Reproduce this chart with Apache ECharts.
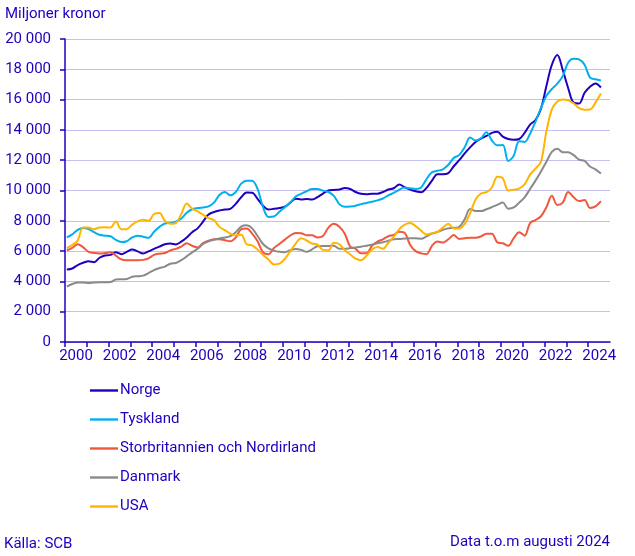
<!DOCTYPE html>
<html>
<head>
<meta charset="utf-8">
<script src="https://cdn.jsdelivr.net/npm/echarts@6/dist/echarts.min.js"></script>
<style>
html,body{margin:0;padding:0;background:#fff;}
#c{width:635px;height:556px;}
</style>
</head>
<body>
<div id="c"></div>
<script>
// Quarterly readings (Feb, May, Aug, Nov) from 2000 to Aug 2024, miljoner kronor
const seriesNames = ['Norge', 'Tyskland', 'Storbritannien och Nordirland', 'Danmark', 'USA'];
const startYear = 2000;
const yTicks = [0, 2000, 4000, 6000, 8000, 10000, 12000, 14000, 16000, 18000, 20000];

const norge = [
  4780, 4850, 5080, 5230,   5330, 5270, 5560, 5710,   5750, 5920, 5800, 5950,
  6100, 5980, 5840, 5980,   6150, 6300, 6450, 6500,   6440, 6620, 6900, 7250,
  7500, 7950, 8420, 8580,   8680, 8740, 8790, 9120,   9550, 9860, 9850, 9450,
  9000, 8740, 8790, 8850,   8930, 9200, 9460, 9410,   9440, 9400, 9560, 9800,
  10000, 10040, 10060, 10170, 10100, 9900, 9780, 9760, 9790, 9790, 9900, 10070,
  10150, 10400, 10220, 10060, 9950, 9880, 10170, 10650, 11080, 11080, 11150, 11600,
  12000, 12450, 12850, 13200, 13420, 13600, 13800, 13870, 13560, 13400, 13350, 13400,
  13800, 14350, 14650, 15400, 16900, 18300, 18950, 17950, 16750, 15800, 15750, 16450,
  16850, 17070, 16800
];
const tyskland = [
  6900, 7100, 7400, 7530,   7450, 7250, 7080, 7020,   6980, 6740, 6600, 6650,
  6900, 7010, 6950, 6880,   7280, 7600, 7820, 7860,   7950, 8150, 8530, 8760,
  8840, 8880, 8950, 9200,   9700, 9900, 9680, 9900,   10450, 10650, 10650, 10100,
  8900, 8250, 8280, 8600,   8900, 9200, 9600, 9780,   9950, 10100, 10100, 9990,
  9900, 9650, 9100, 8930,   8950, 9000, 9100, 9180,   9260, 9350, 9470, 9680,
  9850, 10050, 10200, 10150, 10100, 10200, 10750, 11200, 11300, 11400, 11700, 12150,
  12350, 12850, 13500, 13300, 13450, 13850, 13300, 12980, 13000, 11950, 12300, 13250,
  13200, 13750, 14550, 15450, 16250, 16700, 17050, 17550, 18450, 18700, 18650, 18300,
  17450, 17340, 17260
];
const storbritannien = [
  6050, 6220, 6450, 6250,   5950, 5880, 5840, 5870,   5920, 5700, 5450, 5390,
  5400, 5400, 5420, 5520,   5750, 5830, 5870, 6050,   6150, 6300, 6520, 6350,
  6240, 6520, 6680, 6780,   6790, 6720, 6650, 6900,   7450, 7500, 7150, 6650,
  5920, 5800, 6200, 6470,   6760, 7030, 7200, 7180,   7050, 7050, 6900, 7000,
  7550, 7800, 7600, 7150,   6300, 6150, 5850, 5850,   6350, 6620, 6780, 6980,
  7070, 7280, 7200, 6400,   6000, 5850, 5800, 6350,   6640, 6560, 6780, 7060,
  6800, 6850, 6880, 6880,   6970, 7150, 7150, 6580,   6520, 6350, 6850, 7250,
  7020, 7850, 8050, 8300,   8900, 9650, 9050, 9200,   9900, 9550, 9300, 9380,
  8850, 8950, 9300
];
const danmark = [
  3650, 3830, 3920, 3930,   3900, 3930, 3940, 3940,   3960, 4120, 4140, 4160,
  4310, 4340, 4380, 4550,   4750, 4880, 4980, 5170,   5210, 5400, 5650, 5920,
  6150, 6480, 6640, 6750,   6830, 6900, 6990, 7250,   7620, 7700, 7500, 7000,
  6470, 6180, 6030, 5950,   5930, 6060, 6140, 6080,   5950, 6120, 6320, 6340,
  6340, 6350, 6150, 6150,   6200, 6240, 6290, 6360,   6420, 6520, 6580, 6680,
  6780, 6800, 6830, 6850,   6840, 6820, 6970, 7150,   7260, 7400, 7500, 7540,
  7600, 8100, 8780, 8650,   8640, 8760, 8900, 9050,   9200, 8800, 8880, 9200,
  9550, 10100, 10650, 11250, 11900, 12550, 12750, 12530, 12520, 12330, 12040, 11950,
  11580, 11400, 11120
];
const usa = [
  6200, 6400, 6700, 7550,   7550, 7450, 7560, 7580,   7550, 7950, 7450, 7450,
  7750, 7960, 8070, 8000,   8450, 8520, 8000, 7800,   7850, 8450, 9150, 8800,
  8620, 8400, 8170, 8050,   7600, 7380, 7150, 7030,   7080, 6450, 6380, 6100,
  5750, 5450, 5110, 5170,   5480, 6000, 6500, 6850,   6700, 6500, 6420, 6080,
  6050, 6550, 6450, 6060,   5780, 5500, 5400, 5700,   6100, 6270, 6150, 6550,
  6950, 7450, 7750, 7850,   7650, 7350, 7100, 7180,   7270, 7550, 7800, 7500,
  7500, 7800, 8500, 9400,   9800, 9900, 10200, 10900, 10800, 10000, 10050, 10130,
  10400, 11050, 11450, 11900, 13900, 15350, 15880, 16010, 15950, 15750, 15430, 15330,
  15350, 15800, 16400
];
const seriesValues = [norge, tyskland, storbritannien, danmark, usa];
const seriesColors = ['#1e00be', '#00b0ee', '#f0573c', '#8a8a8a', '#ffb400'];

const sourceText = 'Källa: SCB';
const noteText = 'Data t.o.m augusti 2024';
const yTitle = 'Miljoner kronor';

const txt = '#1e00be';
const fontFam = 'Roboto, "Noto Sans", sans-serif';

function fmt(v) {
  return String(v).replace(/\B(?=(\d{3})+(?!\d))/g, ' ');
}

const series = seriesNames.map((name, k) => ({
  name: name,
  type: 'line',
  symbol: 'none',
  smooth: 0.35,
  lineStyle: { width: 2, color: seriesColors[k] },
  itemStyle: { color: seriesColors[k] },
  data: seriesValues[k].map((v, i) => [startYear + 1 / 12 + i * 0.25, v])
}));

const titleStyle = { color: txt, fontSize: 15, fontWeight: 'normal', fontFamily: fontFam };

const chart = echarts.init(document.getElementById('c'), null, { renderer: 'canvas' });
chart.setOption({
  animation: false,
  backgroundColor: '#fff',
  textStyle: { fontFamily: fontFam },
  grid: { left: 65, right: 25, top: 39, bottom: 214, containLabel: false },
  title: [
    { text: yTitle, left: 5, top: 7, padding: 0, textStyle: titleStyle },
    { text: sourceText, left: 4, top: 537, padding: 0, textStyle: titleStyle },
    { text: noteText, right: 25, top: 535, padding: 0, textStyle: titleStyle }
  ],
  legend: {
    orient: 'vertical',
    left: 90,
    top: 383,
    padding: 0,
    itemWidth: 28,
    itemHeight: 14,
    itemGap: 14,
    data: seriesNames.map((n, k) => ({ name: n, icon: 'path://M0,5.8 L28,5.8 L28,8.2 L0,8.2 Z', itemStyle: { color: seriesColors[k] } })),
    textStyle: { color: txt, fontSize: 15, fontFamily: fontFam, padding: [0, 0, 0, -3] }
  },
  xAxis: {
    type: 'value',
    min: 2000,
    max: 2025,
    interval: 1,
    axisLine: { show: true, lineStyle: { color: txt, width: 1.5 } },
    axisTick: { show: true, length: 5, lineStyle: { color: txt, width: 1.5 } },
    splitLine: { show: false },
    axisLabel: {
      color: txt,
      fontSize: 15,
      fontFamily: fontFam,
      margin: 7,
      showMaxLabel: false,
      padding: [0, 0, 0, 22],
      formatter: function (v) { return (v % 2 === 0 && v < 2025) ? String(v) : ''; }
    }
  },
  yAxis: {
    type: 'value',
    min: yTicks[0],
    max: yTicks[yTicks.length - 1],
    interval: yTicks[1] - yTicks[0],
    axisLine: { show: true, lineStyle: { color: txt, width: 1.5 } },
    axisTick: { show: true, length: 5, lineStyle: { color: txt, width: 1.5 } },
    splitLine: { show: true, lineStyle: { color: '#c4bff0', width: 1 } },
    axisLabel: { color: txt, fontSize: 15, fontFamily: fontFam, margin: 14, formatter: fmt }
  },
  series: series
});
</script>
</body>
</html>
